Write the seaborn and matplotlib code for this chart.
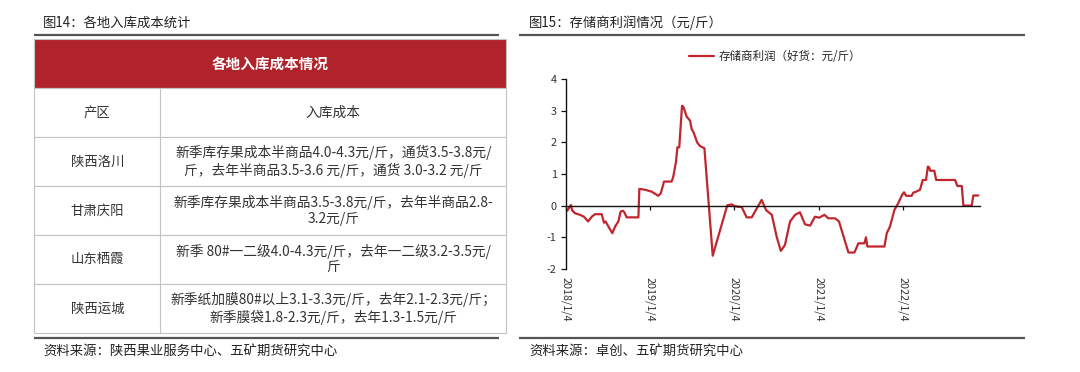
import matplotlib
matplotlib.use("Agg")
import pandas as pd
import matplotlib.pyplot as plt
import seaborn as sns

# ---- table data (left panel) ----
table_title = "各地入库成本情况"
table_cols = ["产区", "入库成本"]
regions = ["陕西洛川", "甘肃庆阳", "山东栖霞", "陕西运城"]
costs = [
    "新季库存果成本半商品4.0-4.3元/斤，通货3.5-3.8元/\n斤，去年半商品3.5-3.6 元/斤，通货 3.0-3.2 元/斤",
    "新季库存果成本半商品3.5-3.8元/斤，去年半商品2.8-\n3.2元/斤",
    "新季 80#一二级4.0-4.3元/斤，去年一二级3.2-3.5元/\n斤",
    "新季纸加膜80#以上3.1-3.3元/斤，去年2.1-2.3元/斤；\n新季膜袋1.8-2.3元/斤，去年1.3-1.5元/斤",
]

# ---- storage profit series (right panel) ----
profit_dates = [
    "2018-01-05", "2018-01-11", "2018-01-20", "2018-01-27", "2018-01-31", "2018-02-13",
    "2018-03-07", "2018-03-24", "2018-04-11", "2018-04-27", "2018-05-11", "2018-06-09",
    "2018-06-19", "2018-06-26", "2018-07-08", "2018-07-25", "2018-08-06", "2018-08-20",
    "2018-08-30", "2018-09-08", "2018-09-15", "2018-09-25", "2018-11-15", "2018-11-19",
    "2018-12-14", "2019-01-12", "2019-02-09", "2019-02-20", "2019-03-06", "2019-04-08",
    "2019-04-15", "2019-04-27", "2019-05-03", "2019-05-11", "2019-05-23", "2019-05-29",
    "2019-06-12", "2019-06-27", "2019-07-04", "2019-07-11", "2019-07-28", "2019-08-09",
    "2019-08-28", "2019-10-03", "2019-11-04", "2019-12-05", "2019-12-24", "2020-01-08",
    "2020-02-06", "2020-02-27", "2020-03-20", "2020-05-02", "2020-05-21", "2020-06-15",
    "2020-07-06", "2020-07-24", "2020-08-11", "2020-09-02", "2020-09-24", "2020-10-15",
    "2020-11-06", "2020-11-28", "2020-12-19", "2021-01-07", "2021-01-29", "2021-02-15",
    "2021-03-16", "2021-04-02", "2021-05-13", "2021-06-08", "2021-06-25", "2021-07-21",
    "2021-07-28", "2021-08-03", "2021-10-16", "2021-10-26", "2021-11-09", "2021-11-28",
    "2021-12-15", "2022-01-02", "2022-01-09", "2022-01-18", "2022-02-11", "2022-02-18",
    "2022-03-02", "2022-03-19", "2022-03-31", "2022-04-14", "2022-04-22", "2022-04-28",
    "2022-05-02", "2022-05-20", "2022-05-28", "2022-08-18", "2022-08-28", "2022-09-16",
    "2022-09-23", "2022-10-29", "2022-11-05", "2022-11-27",
]
profit_values = [
    -0.11, -0.16, -0.05, 0.02, -0.14, -0.24,
    -0.29, -0.35, -0.50, -0.35, -0.27, -0.27,
    -0.54, -0.50, -0.66, -0.87, -0.66, -0.50,
    -0.19, -0.16, -0.21, -0.37, -0.37, 0.53,
    0.50, 0.44, 0.31, 0.39, 0.76, 0.76,
    0.91, 1.39, 1.84, 1.84, 3.15, 3.12,
    2.81, 2.68, 2.41, 2.33, 1.99, 1.88,
    1.81, -1.58, -0.77, 0.01, 0.04, -0.02,
    -0.05, -0.37, -0.37, 0.18, -0.14, -0.29,
    -0.98, -1.43, -1.24, -0.50, -0.29, -0.21,
    -0.59, -0.63, -0.35, -0.38, -0.29, -0.40,
    -0.40, -0.50, -1.48, -1.48, -1.19, -1.19,
    -1.00, -1.29, -1.29, -0.87, -0.66, -0.14,
    0.08, 0.36, 0.42, 0.31, 0.31, 0.41,
    0.44, 0.50, 0.81, 0.81, 1.23, 1.21,
    1.10, 1.10, 0.81, 0.81, 0.62, 0.62,
    0.00, 0.00, 0.32, 0.32,
]
series_name = "存储商利润（好货：元/斤）"
xtick_dates = ["2018-01-04", "2019-01-04", "2020-01-04", "2021-01-04", "2022-01-04"]
xtick_labels = ["2018/1/4", "2019/1/4", "2020/1/4", "2021/1/4", "2022/1/4"]
yticks = [-2, -1, 0, 1, 2, 3, 4]

df = pd.DataFrame({"date": pd.to_datetime(profit_dates), "profit": profit_values})

sns.set_style("white")
plt.rcParams["font.family"] = ["Noto Sans CJK SC", "DejaVu Sans"]
plt.rcParams["axes.unicode_minus"] = False

RED = "#B0232A"
LINE_RED = "#C0262E"
GRID = "#C3C3C3"
TXT = "#333333"
RULE = "#555555"

fig = plt.figure(figsize=(10.8, 3.72), dpi=100)

# overlay in pixel coords for the table and headings
bg = fig.add_axes([0, 0, 1, 1])
bg.set_xlim(0, 1080)
bg.set_ylim(372, 0)
bg.axis("off")

# headings, rules, sources
bg.text(43, 23, "图14：各地入库成本统计", fontsize=9.6, color="#222222", va="center", ha="left")
bg.text(529, 23, "图15：存储商利润情况（元/斤）", fontsize=9.6, color="#222222", va="center", ha="left")
for (xa, xb) in [(34, 499), (519, 1025)]:
    bg.plot([xa, xb], [34.6, 34.6], color=RULE, lw=1.6, solid_capstyle="butt")
    bg.plot([xa, xb], [337.8, 337.8], color=RULE, lw=1.6, solid_capstyle="butt")
bg.text(43, 351, "资料来源：陕西果业服务中心、五矿期货研究中心", fontsize=9.6, color="#222222", va="center")
bg.text(529, 351, "资料来源：卓创、五矿期货研究中心", fontsize=9.6, color="#222222", va="center")

# table
x0, x1, xdiv = 34.3, 506.3, 160.3
ytop, yhead = 39.3, 88.3
row_h = 48.9
bg.add_patch(plt.Rectangle((x0, ytop), x1 - x0, yhead - ytop, facecolor=RED, edgecolor=GRID, lw=0.8))
bg.text((x0 + x1) / 2, (ytop + yhead) / 2, table_title, color="white", fontsize=10.5,
        fontweight="bold", ha="center", va="center")
rows = [table_cols] + [[r, c] for r, c in zip(regions, costs)]
for i, (left_txt, right_txt) in enumerate(rows):
    ya = yhead + i * row_h
    yb = ya + row_h
    bg.add_patch(plt.Rectangle((x0, ya), x1 - x0, row_h, facecolor="white", edgecolor=GRID, lw=0.8))
    bg.plot([xdiv, xdiv], [ya, yb], color=GRID, lw=0.8)
    ym = (ya + yb) / 2
    bg.text((x0 + xdiv) / 2, ym, left_txt, fontsize=9.6, color=TXT, ha="center", va="center")
    bg.text((xdiv + x1) / 2, ym, right_txt, fontsize=9.9, color=TXT, ha="center", va="center",
            linespacing=1.25, multialignment="center")

# line chart
ax = fig.add_axes([565.7 / 1080, 1 - 269 / 372, (980 - 565.7) / 1080, (269 - 78.9) / 372])
ax.patch.set_alpha(0)
sns.lineplot(data=df, x="date", y="profit", ax=ax, color=LINE_RED, lw=1.6, label=series_name)
ax.set_xlim(pd.Timestamp("2018-01-04"), pd.Timestamp("2022-12-04"))
ax.set_ylim(-2, 4)
ax.set_xlabel("")
ax.set_ylabel("")
for s in ["top", "right"]:
    ax.spines[s].set_visible(False)
ax.spines["bottom"].set_position(("data", 0))
for s in ["left", "bottom"]:
    ax.spines[s].set_color("#111111")
    ax.spines[s].set_linewidth(1.0)
ax.set_yticks(yticks, labels=[str(v) for v in yticks])
ax.set_xticks(pd.to_datetime(xtick_dates))
ax.tick_params(axis="y", direction="out", length=3.6, width=0.9, pad=3, labelsize=7.8,
               labelcolor=TXT, color="#111111", left=True)
ax.tick_params(axis="x", direction="out", length=2.8, width=0.9, labelbottom=False,
               color="#111111", bottom=True)
for d, lab in zip(pd.to_datetime(xtick_dates), xtick_labels):
    ax.text(d, -0.04, lab, transform=ax.get_xaxis_transform(), rotation=270,
            ha="center", va="top", fontsize=7.8, color=TXT)

ax.legend(loc="center", bbox_to_anchor=(775 / 1080, 1 - 57 / 372), bbox_transform=fig.transFigure,
          frameon=False, fontsize=8.3, handlelength=2.1, handletextpad=0.4, borderpad=0)

fig.savefig("out.png", dpi=100)
